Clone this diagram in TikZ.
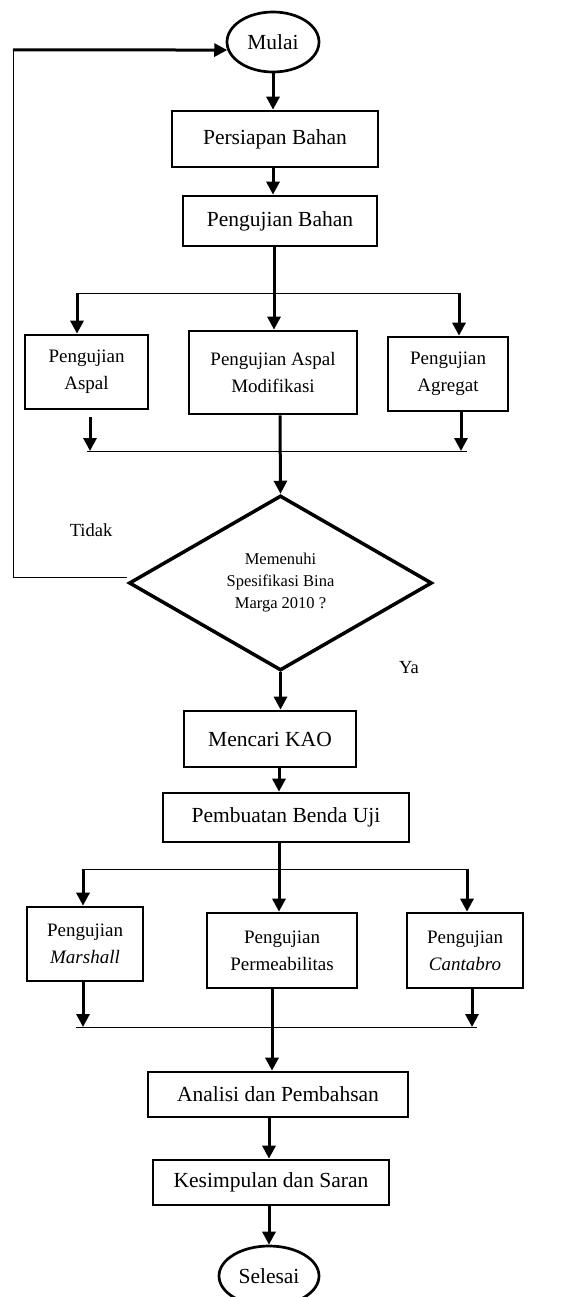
\documentclass[tikz,border=0pt]{standalone}
\usepackage{fontspec}
\setmainfont{Liberation Serif}
\usetikzlibrary{arrows.meta,shapes.geometric}
\begin{document}
\begin{tikzpicture}[x=1pt,y=-1pt,
  box/.style={draw,line width=2.7pt,inner sep=0pt,align=center,font=\fontsize{21.5}{26}\selectfont},
  sbox/.style={box,font=\fontsize{19}{27}\selectfont},
  term/.style={draw,ellipse,line width=2.7pt,inner sep=0pt,font=\fontsize{21.5}{26}\selectfont},
  dec/.style={draw,diamond,aspect=1.7,line width=3.5pt,inner sep=0pt,align=center,font=\fontsize{16.5}{22}\selectfont},
  arr/.style={line width=3pt,-{Triangle[width=13pt,length=13pt]}},
  thk/.style={line width=3pt},
  thin/.style={line width=1pt},
  lbl/.style={inner sep=0pt,font=\fontsize{18.5}{22}\selectfont}]
\useasboundingbox (0,0) rectangle (581,1297);
% nodes
\node[term,minimum width=92pt,minimum height=60pt] (mulai) at (273,42) {Mulai};
\node[box,minimum width=206pt,minimum height=56pt] (persiapan) at (275,139) {Persiapan Bahan};
\node[box,minimum width=194pt,minimum height=50pt] (bahan) at (280,221) {Pengujian Bahan};
\node[sbox,minimum width=123pt,minimum height=74pt] (aspal) at (86.5,372) {Pengujian\\Aspal};
\node[sbox,minimum width=168pt,minimum height=83pt] (modif) at (273,372.5) {Pengujian Aspal\\Modifikasi};
\node[sbox,minimum width=120pt,minimum height=74pt] (agregat) at (448,374) {Pengujian\\Agregat};
\node[dec,minimum width=303pt,minimum height=175pt] (dia) at (280.5,583) {Memenuhi\\Spesifikasi Bina\\Marga 2010 ?};
\node[box,minimum width=172pt,minimum height=56pt] (mencari) at (270,739) {Mencari KAO};
\node[box,minimum width=246pt,minimum height=49pt] (pembuatan) at (286,817.5) {Pembuatan Benda Uji};
\node[sbox,minimum width=116pt,minimum height=74pt] (marshall) at (85,944) {Pengujian\\\textit{Marshall}};
\node[sbox,minimum width=150pt,minimum height=75pt] (permeab) at (282,950.5) {Pengujian\\Permeabilitas};
\node[sbox,minimum width=116pt,minimum height=75pt] (cantabro) at (465,950.5) {Pengujian\\\textit{Cantabro}};
\node[box,minimum width=260pt,minimum height=45pt] (analisi) at (278,1094.5) {Analisi dan Pembahsan};
\node[box,minimum width=236pt,minimum height=45pt] (kesimpulan) at (271,1182.5) {Kesimpulan dan Saran};
\node[term,minimum width=100pt,minimum height=60pt] (selesai) at (269,1276) {Selesai};
\node[lbl] (tidak) at (91,530) {Tidak};
\node[lbl] (ya) at (409,668) {Ya};
% helper coordinates
\coordinate (b1) at (274,293);
\coordinate (bl) at (77,293);
\coordinate (br) at (459,293);
\coordinate (jl) at (87,451);
\coordinate (jr) at (467,451);
\coordinate (ja) at (90,417);
\coordinate (jg) at (461,451);
\coordinate (jm) at (280,451);
\coordinate (lc1) at (13,577);
\coordinate (lc2) at (13,49.8);
\coordinate (p1) at (279,869);
\coordinate (pl) at (83,869);
\coordinate (pr) at (467,869);
\coordinate (ql) at (76,1027);
\coordinate (qr) at (477,1027);
\coordinate (qm) at (83,1027);
\coordinate (qc) at (472,1027);
% connectors
\draw[arr] (mulai.south) -- (mulai.south |- persiapan.north);
\draw[arr] (persiapan.south -| mulai.south) -- (bahan.north -| mulai.south);
\draw[thk] (bahan.south -| b1) -- (b1);
\draw[thin] (bl) -- (br);
\draw[arr] (bl) -- (bl |- aspal.north);
\draw[arr] (b1) -- (b1 |- modif.north);
\draw[arr] (br) -- (br |- agregat.north);
\draw[arr] (ja) -- (ja |- jl);
\draw[arr] (agregat.south -| jg) -- (jg);
\draw[thin] (jl) -- (jr);
\draw[arr] (modif.south -| jm) -- (dia.north);
\draw[thin] (dia.west |- lc1) -- (lc1) -- (lc2);
\draw[arr] (lc2) -- (mulai.190);
\draw[arr] (dia.south) -- (dia.south |- mencari.north);
\draw[arr] (mencari.south -| p1) -- (pembuatan.north -| p1);
\draw[arr] (pembuatan.south -| p1) -- (permeab.north -| p1);
\draw[thin] (pl) -- (pr);
\draw[arr] (pl) -- (pl |- marshall.north);
\draw[arr] (pr) -- (pr |- cantabro.north);
\draw[arr] (marshall.south -| qm) -- (qm);
\draw[arr] (cantabro.south -| qc) -- (qc);
\draw[thin] (ql) -- (qr);
\draw[arr] (permeab.south -| 272,0) -- (analisi.north -| 272,0);
\draw[arr] (analisi.south -| selesai.north) -- (kesimpulan.north -| selesai.north);
\draw[arr] (kesimpulan.south -| selesai.north) -- (selesai.north);
\end{tikzpicture}
\end{document}
